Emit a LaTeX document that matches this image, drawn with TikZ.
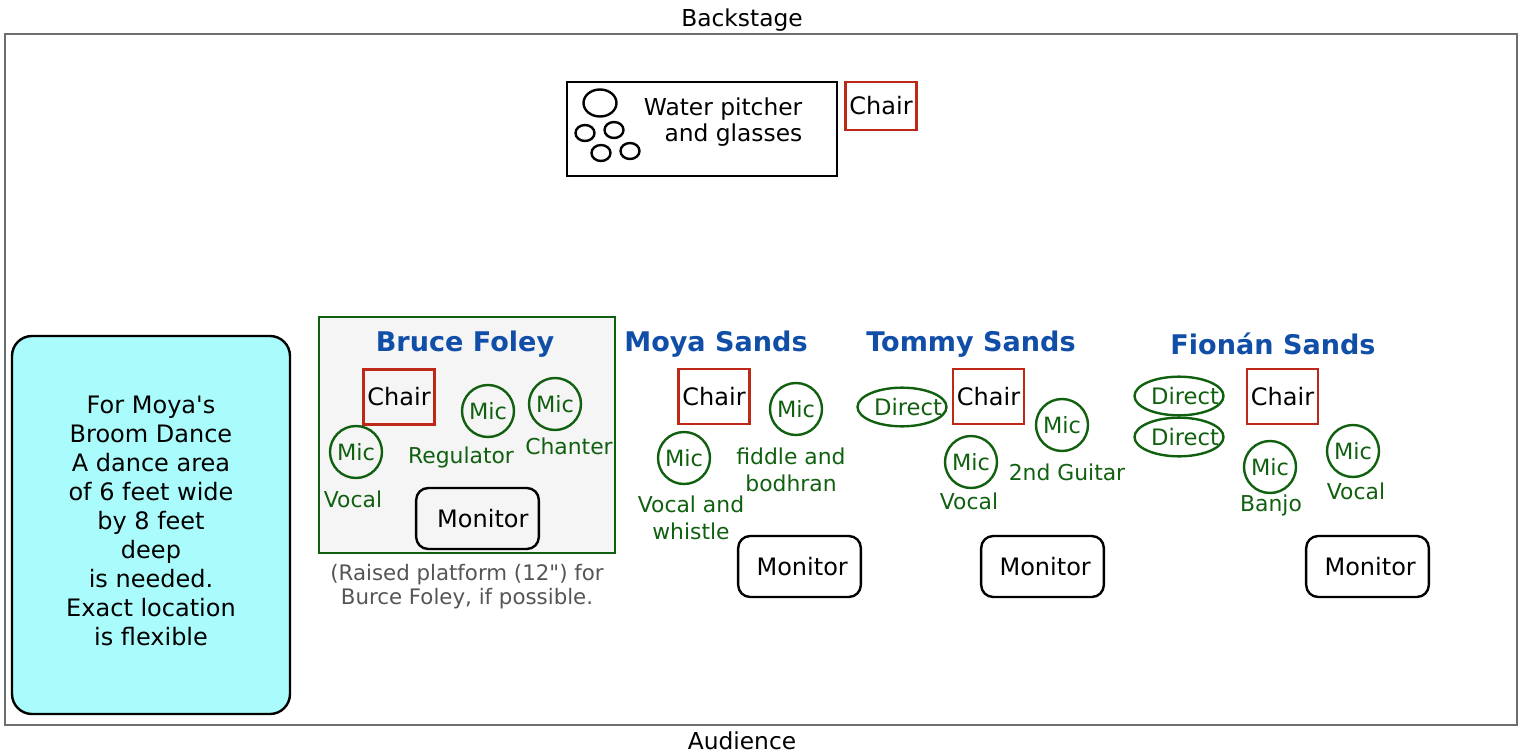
\documentclass[tikz,border=0pt]{standalone}
\usepackage{fontspec}
\setmainfont{DejaVu Sans}[Ligatures=TeXOff]
\usetikzlibrary{shapes.geometric}
\definecolor{stagegrey}{RGB}{110,110,110}
\definecolor{micgreen}{RGB}{16,96,16}
\definecolor{chairred}{RGB}{190,40,25}
\definecolor{nameblue}{RGB}{16,78,168}
\definecolor{platfill}{RGB}{245,245,245}
\definecolor{dancefill}{RGB}{170,252,252}
\definecolor{notegrey}{RGB}{85,85,85}
\tikzset{
  blacktext/.style={font=\fontsize{18}{21}\selectfont, text=black},
  chairbox/.style={draw=chairred, line width=1.8pt, minimum width=53pt, minimum height=41pt, inner sep=0pt, blacktext},
  monitorbox/.style={draw=black, line width=1.8pt, rounded corners=9pt, minimum width=92pt, minimum height=45.75pt, inner sep=0pt, blacktext},
  micnode/.style={circle, draw=micgreen, line width=1.8pt, minimum size=39pt, inner sep=0pt, text=micgreen, font=\fontsize{16.8}{18}\selectfont},
  directnode/.style={ellipse, draw=micgreen, line width=1.8pt, minimum width=66.75pt, minimum height=29pt, inner sep=0pt,
    label={[text=micgreen, font=\fontsize{17}{18}\selectfont, inner sep=0pt, xshift=4.5pt]center:Direct}},
  greenlabel/.style={text=micgreen, font=\fontsize{16.4}{20.25}\selectfont, align=center, inner sep=0pt},
  person/.style={text=nameblue, font=\fontsize{20.3}{24}\selectfont\bfseries, inner sep=0pt},
  glass/.style={draw=black, line width=1.8pt},
}
\begin{document}
\begin{tikzpicture}[x=0.75pt, y=-0.75pt]
\useasboundingbox (0,0) rectangle (1525,753);
% stage
\node[draw=stagegrey, line width=1.2pt, minimum width=1134pt, minimum height=518.25pt, inner sep=0pt] (stage) at (761,379.5) {};
\node[blacktext, font=\fontsize{17.5}{20}\selectfont] (back) at (742,20) {Backstage};
\node[blacktext, font=\fontsize{17.5}{20}\selectfont] (aud) at (742,741) {Audience};
% water
\node[draw=black, line width=1.8pt, minimum width=202.5pt, minimum height=70.5pt, inner sep=0pt] (water) at (702,129) {};
\draw[glass] (600,103) ellipse [x radius=16.5, y radius=13.5];
\draw[glass] (585,133) ellipse [x radius=9.5, y radius=8];
\draw[glass] (614,130) ellipse [x radius=9.5, y radius=8];
\draw[glass] (601,153) ellipse [x radius=9.5, y radius=8];
\draw[glass] (630,151) ellipse [x radius=9.5, y radius=8];
\node[blacktext, align=right, font=\fontsize{17.5}{19.5}\selectfont, anchor=east] (watertext) at (807,122) {Water pitcher\\and glasses};
\node[chairbox, minimum height=36pt] (chairtop) at (881,106) {Chair};
% dance area
\node[draw=black, line width=1.8pt, fill=dancefill, rounded corners=15pt, minimum width=208.5pt, minimum height=283.5pt, inner sep=0pt] (dance) at (151,525) {};
\node[blacktext, align=center, font=\fontsize{18}{21.75}\selectfont] (dancetext) at (151,521) {For Moya's\\Broom Dance\\A dance area\\of 6 feet wide\\by 8 feet\\deep\\is needed.\\Exact location\\is flexible};
% Bruce Foley platform
\node[draw=micgreen, line width=1.8pt, fill=platfill, minimum width=222pt, minimum height=177pt, inner sep=0pt] (platform) at (467,435) {};
\node[person] (bruce) at (465,344) {Bruce Foley};
\node[chairbox] (chairbf) at (399,397) {Chair};
\node[micnode] (micbfv) at (356,452) {Mic};
\node[micnode] (micbfr) at (488,411) {Mic};
\node[micnode] (micbfc) at (555,404) {Mic};
\node[greenlabel] (lbfv) at (353,499) {Vocal};
\node[greenlabel] (lbfr) at (461,457) {Regulator};
\node[greenlabel] (lbfc) at (569,446) {Chanter};
\node[monitorbox] (monbf) at (477.5,518.5) {\hspace{8pt}Monitor};
\node[text=notegrey, font=\fontsize{16}{18}\selectfont, align=center, inner sep=0pt] (platnote) at (467,587) {(Raised platform (12") for\\Burce Foley, if possible.};
% Moya Sands
\node[person] (moya) at (716,344) {Moya Sands};
\node[chairbox] (chairm) at (714,396.5) {Chair};
\node[micnode] (micmf) at (796,409) {Mic};
\node[micnode] (micmv) at (684,458) {Mic};
\node[greenlabel] (lmf) at (791,470) {fiddle and\\bodhran};
\node[greenlabel] (lmv) at (691,518) {Vocal and\\whistle};
\node[monitorbox] (monm) at (799.5,566.5) {\hspace{4pt}Monitor};
% Tommy Sands
\node[person] (tommy) at (971,344) {Tommy Sands};
\node[directnode] (dirt) at (902,407) {};
\node[chairbox] (chairt) at (988.5,396.5) {Chair};
\node[micnode] (mictg) at (1062,425) {Mic};
\node[micnode] (mictv) at (971,462) {Mic};
\node[greenlabel] (ltg) at (1067,472) {2nd Guitar};
\node[greenlabel] (ltv) at (969,501) {Vocal};
\node[monitorbox] (mont) at (1042.5,566.5) {\hspace{4pt}Monitor};
% Fionan Sands
\node[person] (fionan) at (1273,344) {Fionán Sands};
\node[directnode] (dirf1) at (1179,396) {};
\node[directnode] (dirf2) at (1179,437) {};
\node[chairbox] (chairf) at (1282.5,396.5) {Chair};
\node[micnode] (micfb) at (1270,467) {Mic};
\node[micnode] (micfv) at (1353,451) {Mic};
\node[greenlabel] (lfb) at (1271,505) {Banjo};
\node[greenlabel] (lfv) at (1356,491) {Vocal};
\node[monitorbox] (monf) at (1367.5,566.5) {\hspace{4pt}Monitor};
\end{tikzpicture}
\end{document}
